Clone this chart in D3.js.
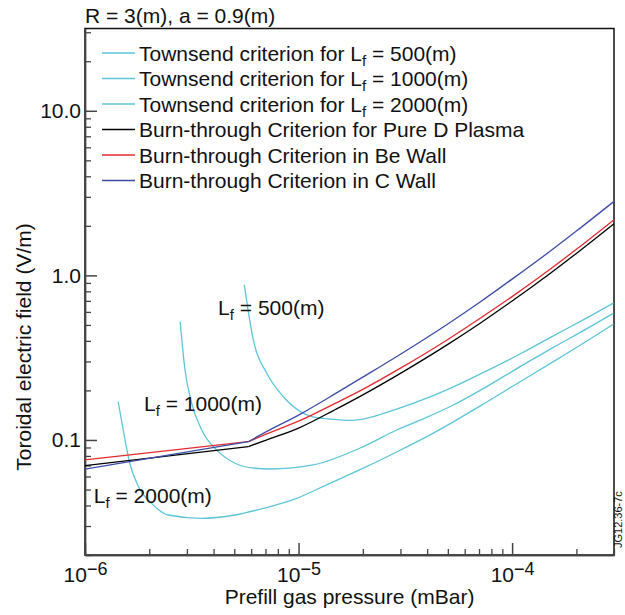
<!DOCTYPE html>
<html>
<head>
<meta charset="utf-8">
<script src="https://cdn.jsdelivr.net/npm/d3@7"></script>
<style>
  body { margin: 0; background: #fff; }
  svg text { font-family: "Liberation Sans", Arial, Helvetica, sans-serif; fill: #111; }
</style>
</head>
<body>
<div id="chart"></div>
<script>
// Townsend criterion curves (pressure in mBar, field in V/m)
var pLf500 = [5.57e-6, 5.80e-6, 6.14e-6, 7.10e-6, 8.49e-6, 1.02e-5, 1.17e-5, 1.40e-5, 1.74e-5, 2.01e-5, 2.88e-5, 4.13e-5, 5.31e-5, 7.61e-5, 1.09e-4, 1.56e-4, 2.24e-4, 2.98e-4];
var eLf500 = [0.875, 0.617, 0.405, 0.254, 0.183, 0.1486, 0.138, 0.134, 0.1314, 0.134, 0.154, 0.1825, 0.210, 0.263, 0.333, 0.429, 0.552, 0.678];

var pLf1000 = [2.79e-6, 2.94e-6, 3.16e-6, 3.52e-6, 4.21e-6, 5.04e-6, 6.25e-6, 7.36e-6, 1.17e-5, 2.01e-5, 2.88e-5, 3.71e-5, 5.31e-5, 7.61e-5, 1.09e-4, 1.56e-4, 2.24e-4, 2.98e-4];
var eLf1000 = [0.524, 0.266, 0.167, 0.115, 0.0849, 0.0722, 0.0673, 0.0666, 0.0705, 0.0911, 0.115, 0.132, 0.163, 0.211, 0.279, 0.365, 0.475, 0.589];

var pLf2000 = [1.43e-6, 1.51e-6, 1.62e-6, 1.78e-6, 2.05e-6, 2.45e-6, 3.52e-6, 5.04e-6, 6.84e-6, 9.81e-6, 1.40e-5, 2.08e-5, 2.88e-5, 4.28e-5, 7.61e-5, 1.09e-4, 1.56e-4, 2.24e-4, 2.98e-4];
var eLf2000 = [0.171, 0.115, 0.0722, 0.052, 0.0412, 0.035, 0.0334, 0.035, 0.0384, 0.0442, 0.0545, 0.0688, 0.0845, 0.110, 0.170, 0.226, 0.299, 0.399, 0.505];

// Burn-through criteria share one pressure grid (second point is the kink)
var pBurn = [1e-6, 5.82e-6, 7e-6, 1e-5, 1.5e-5, 2e-5, 3e-5, 5e-5, 7e-5, 1e-4, 1.5e-4, 2e-4, 3e-4];
var ePureD = [0.0698, 0.0911, 0.0995, 0.118, 0.154, 0.188, 0.254, 0.381, 0.507, 0.698, 1.023, 1.36, 2.06];
var eBeWall = [0.0756, 0.0976, 0.108, 0.130, 0.168, 0.203, 0.273, 0.408, 0.543, 0.743, 1.085, 1.44, 2.18];
var eCWall = [0.0664, 0.0976, 0.1115, 0.1416, 0.1925, 0.241, 0.332, 0.507, 0.682, 0.949, 1.396, 1.859, 2.816];

var legendNames = ["Townsend criterion for L|f| = 500(m)", "Townsend criterion for L|f| = 1000(m)", "Townsend criterion for L|f| = 2000(m)",
  "Burn-through Criterion for Pure D Plasma", "Burn-through Criterion in Be Wall", "Burn-through Criterion in C Wall"];
var curveLabels = ["500", "1000", "2000"];

var yMajor = [0.1, 1, 10];
var yMajorLabels = ["0.1", "1.0", "10.0"];
var xMajor = [1e-6, 1e-5, 1e-4];
var xMajorExp = ["−6", "−5", "−4"];

var cyan = "#5cc6d8", red = "#e62a2e", blue = "#3b4ea6";

var svgWidth = 625, svgHeight = 615;
var margin = { top: 28.5, right: 11, bottom: 60, left: 85 };
var width = svgWidth - margin.left - margin.right;
var height = svgHeight - margin.top - margin.bottom;
var fs = 21;

var svg = d3.select("#chart").append("svg")
  .attr("width", svgWidth)
  .attr("height", svgHeight);

var chartGroup = svg.append("g")
  .attr("transform", `translate(${margin.left}, ${margin.top})`);

var x = d3.scaleLog().domain([1e-6, 3e-4]).range([0, width]);
var y = d3.scaleLog().domain([0.02, Math.pow(10, 1.5)]).range([height, 0]);

// minor tick values
var yMinor = [], xMinor = [];
[0.01, 0.1, 1, 10].forEach(function(d) {
  for (var k = 2; k <= 9; k++) {
    var v = d * k;
    if (v >= 0.02 && v <= 31.6) yMinor.push(v);
  }
});
[1e-6, 1e-5, 1e-4].forEach(function(d) {
  for (var k = 2; k <= 9; k++) {
    var v = d * k;
    if (v <= 3.01e-4) xMinor.push(v);
  }
});

var axisColor = "#444";

// frame (top and right)
chartGroup.append("rect")
  .attr("width", width).attr("height", height)
  .attr("fill", "none").attr("stroke", "#111").attr("stroke-width", 1.5);

// y axis
chartGroup.append("g")
  .call(d3.axisLeft(y).tickValues(yMinor).tickSize(-6).tickSizeOuter(0).tickFormat(""))
  .call(g => g.selectAll("line, path").attr("stroke", axisColor).attr("stroke-width", 1.3));
var yAx = chartGroup.append("g")
  .call(d3.axisLeft(y).tickValues(yMajor).tickSize(-12).tickSizeOuter(0).tickPadding(4)
    .tickFormat((d, i) => yMajorLabels[i]))
  .call(g => g.selectAll("line, path").attr("stroke", axisColor).attr("stroke-width", 1.5));
yAx.selectAll("text").attr("font-size", fs).attr("fill", "#111");

// x axis
chartGroup.append("g")
  .attr("transform", `translate(0, ${height})`)
  .call(d3.axisBottom(x).tickValues(xMinor).tickSize(-6).tickSizeOuter(0).tickFormat(""))
  .call(g => g.selectAll("line, path").attr("stroke", axisColor).attr("stroke-width", 1.3));
var xAx = chartGroup.append("g")
  .attr("transform", `translate(0, ${height})`)
  .call(d3.axisBottom(x).tickValues(xMajor).tickSize(-12).tickSizeOuter(0).tickFormat(""))
  .call(g => g.selectAll("line, path").attr("stroke", axisColor).attr("stroke-width", 1.5));
xAx.selectAll(".tick").each(function(d, i) {
  var t = d3.select(this).append("text")
    .attr("y", 27).attr("text-anchor", "middle").attr("font-size", fs).attr("fill", "#111");
  t.append("tspan").text("10");
  t.append("tspan").attr("dy", -7).attr("font-size", 18).text(xMajorExp[i]);
});

// curves
var line = d3.line().x(d => x(d[0])).y(d => y(d[1]));
var smooth = d3.line().x(d => x(d[0])).y(d => y(d[1])).curve(d3.curveMonotoneX);

var plot = chartGroup.append("g");
[[pLf500, eLf500], [pLf1000, eLf1000], [pLf2000, eLf2000]].forEach(function(s) {
  plot.append("path")
    .datum(d3.zip(s[0], s[1]))
    .attr("d", smooth)
    .attr("fill", "none").attr("stroke", cyan).attr("stroke-width", 1.3);
});
[[ePureD, "#000"], [eBeWall, red], [eCWall, blue]].forEach(function(s) {
  var pts = d3.zip(pBurn, s[0]);
  // straight part up to the kink, smooth afterwards
  plot.append("path")
    .datum(pts.slice(0, 2))
    .attr("d", line)
    .attr("fill", "none").attr("stroke", s[1]).attr("stroke-width", 1.3);
  plot.append("path")
    .datum(pts.slice(1))
    .attr("d", smooth)
    .attr("fill", "none").attr("stroke", s[1]).attr("stroke-width", 1.3);
});

// writes "L|f| = ..." with a subscript f
function addSub(textSel, str) {
  var parts = str.split("|");
  textSel.append("tspan").text(parts[0]);
  textSel.append("tspan").attr("dy", 5).attr("font-size", 15).text(parts[1]);
  textSel.append("tspan").attr("dy", -5).text(parts[2]);
}

// legend
var legendColors = [cyan, cyan, cyan, "#000", red, blue];
var legend = chartGroup.append("g").attr("transform", "translate(17, 24.5)");
legendNames.forEach(function(name, i) {
  var row = legend.append("g").attr("transform", `translate(0, ${i * 25.5})`);
  row.append("line").attr("x1", 0).attr("x2", 33).attr("stroke", legendColors[i]).attr("stroke-width", 1.3);
  var t = row.append("text").attr("x", 37).attr("y", 7.5).attr("font-size", fs);
  if (name.indexOf("|") >= 0) addSub(t, name); else t.text(name);
});

// labels on the Townsend curves
var labelPos = [[4.2e-6, 0.575], [1.89e-6, 0.149], [1.10e-6, 0.0414]];
curveLabels.forEach(function(lab, i) {
  var t = chartGroup.append("text")
    .attr("x", x(labelPos[i][0])).attr("y", y(labelPos[i][1])).attr("font-size", fs);
  addSub(t, "L|f| = " + lab + "(m)");
});

// title and axis titles
svg.append("text").attr("x", 85).attr("y", 23).attr("font-size", fs).text("R = 3(m), a = 0.9(m)");

svg.append("text")
  .attr("transform", `translate(${margin.left + width / 2}, 604)`)
  .attr("text-anchor", "middle").attr("font-size", fs)
  .text("Prefill gas pressure (mBar)");

svg.append("text")
  .attr("transform", "translate(31, 347) rotate(-90)")
  .attr("text-anchor", "middle").attr("font-size", fs)
  .text("Toroidal electric field (V/m)");

svg.append("text")
  .attr("transform", "translate(622, 548) rotate(-90)")
  .attr("font-size", 11).attr("fill", "#222")
  .text("JG12.36-7c");
</script>
</body>
</html>
